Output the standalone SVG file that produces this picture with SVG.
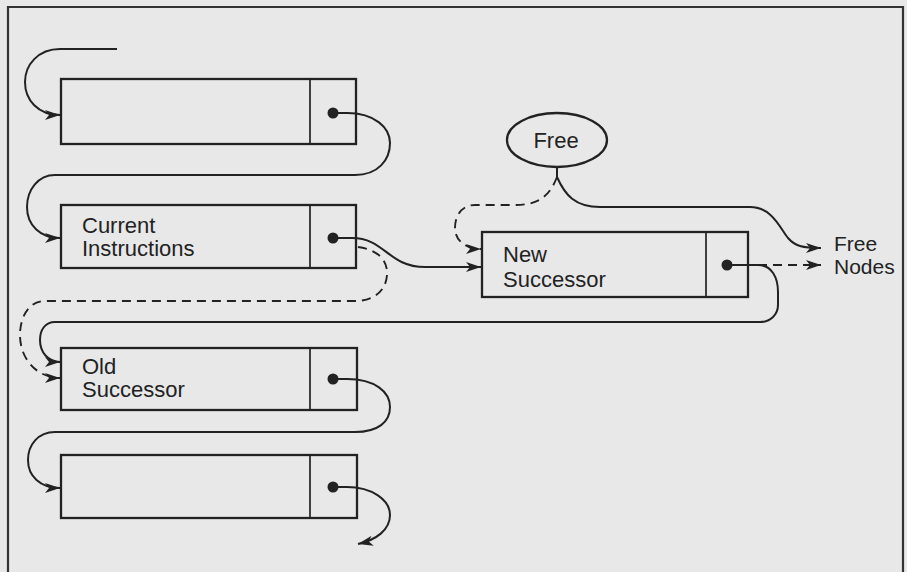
<svg xmlns="http://www.w3.org/2000/svg" width="907" height="572" viewBox="0 0 907 572">
<style>
.box{fill:none;stroke:#222;stroke-width:2.3}
.div{stroke:#222;stroke-width:1.7}
.dot{fill:#222}
.c{fill:none;stroke:#222;stroke-width:2}
.d{fill:none;stroke:#222;stroke-width:1.9;stroke-dasharray:9 6}
.t{font-family:"Liberation Sans",Arial,sans-serif;font-size:22px;fill:#222}
.s{font-size:21px}
</style>
<defs>
<marker id="ah" markerUnits="userSpaceOnUse" markerWidth="16" markerHeight="12" refX="15" refY="5" orient="auto">
<path d="M0,0 L15,5 L0,10 L4,5 z" fill="#222"/>
</marker>
</defs>
<rect x="0" y="0" width="907" height="572" fill="#e8e8e8"/>
<path d="M8,572 V7 H903 V572" fill="none" stroke="#333" stroke-width="2.2"/>

<g id="node1">
<rect class="box" x="61" y="79" width="295" height="65"/>
<line class="div" x1="310" y1="79" x2="310" y2="144"/>
<circle class="dot" cx="333" cy="113" r="5.5"/>
</g>
<g id="node-current">
<rect class="box" x="61" y="205" width="295" height="63"/>
<line class="div" x1="310" y1="205" x2="310" y2="268"/>
<circle class="dot" cx="333" cy="238" r="5.5"/>
<text class="t" x="82" y="233">Current</text>
<text class="t" x="82" y="256">Instructions</text>
</g>
<g id="node-old">
<rect class="box" x="61" y="348" width="296" height="62"/>
<line class="div" x1="310" y1="348" x2="310" y2="410"/>
<circle class="dot" cx="333" cy="379" r="5.5"/>
<text class="t" x="82" y="374">Old</text>
<text class="t" x="82" y="397">Successor</text>
</g>
<g id="node4">
<rect class="box" x="61" y="455" width="296" height="63"/>
<line class="div" x1="310" y1="455" x2="310" y2="518"/>
<circle class="dot" cx="333" cy="487" r="5.5"/>
</g>
<g id="node-new">
<rect class="box" x="482" y="232" width="266" height="65"/>
<line class="div" x1="706" y1="232" x2="706" y2="297"/>
<circle class="dot" cx="727" cy="265" r="5.5"/>
<text class="t" x="503" y="262">New</text>
<text class="t" x="503" y="287">Successor</text>
</g>
<g id="node-free">
<ellipse class="box" cx="557" cy="140" rx="50" ry="27"/>
<text class="t" x="556" y="148" text-anchor="middle">Free</text>
</g>
<g id="node-freenodes">
<text class="t s" x="834" y="251">Free</text>
<text class="t s" x="834" y="274">Nodes</text>
</g>

<g id="connectors">
<path class="c" d="M117,49 H60 C38,49 25,65 25,82 C25,100 38,115 60,115" marker-end="url(#ah)"/>
<path class="c" d="M333,113 H347 C375,113 390,128 390,143 C390,160 378,175 355,175 H55 C38,175 27,190 27,207 C27,225 40,238 60,238" marker-end="url(#ah)"/>
<path class="c" d="M333,238 H352 C385,238 388,267 425,267 H481" marker-end="url(#ah)"/>
<path class="d" d="M358,247 C380,250 388,262 387,275 C386,290 375,301 355,301 H45 C28,301 20,318 20,335 C20,360 38,378 60,378" marker-end="url(#ah)"/>
<path class="c" d="M727,265 H758 C772,265 778,278 778,292 V305 C778,315 770,322 760,322 H55 C45,322 40,330 40,340 C40,352 48,362 60,362" marker-end="url(#ah)"/>
<path class="c" d="M333,379 H347 C375,379 390,392 390,407 C390,422 378,432 355,432 H55 C38,432 28,445 28,460 C28,476 40,488 60,488" marker-end="url(#ah)"/>
<path class="c" d="M333,487 H347 C372,487 390,500 390,515 C390,530 376,540 358,544" marker-end="url(#ah)"/>
<path class="c" d="M557,167 V177"/>
<path class="d" d="M557,177 C550,195 540,205 515,205 H475 C462,205 455,215 455,228 C455,240 465,249 481,249" marker-end="url(#ah)"/>
<path class="c" d="M557,177 C565,195 575,207 600,207 H750 C772,207 780,228 788,238 C795,246 802,248 821,248" marker-end="url(#ah)"/>
<path class="d" d="M758,265 H821" marker-end="url(#ah)"/>
</g>
</svg>
